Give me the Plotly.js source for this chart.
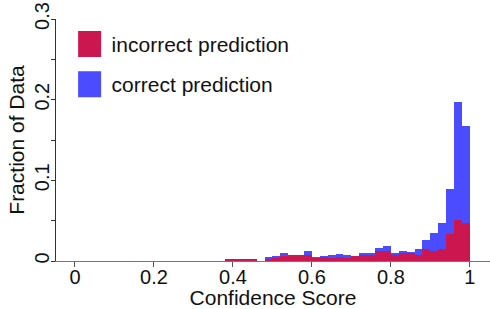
<!DOCTYPE html>
<html><head><meta charset="utf-8">
<script src="https://cdn.plot.ly/plotly-3.0.1.min.js"></script>
<style>html,body{margin:0;padding:0;background:#fff;} #chart{width:490px;height:309px;}</style>
</head><body><div id="chart"></div>
<script>
// Histogram bins (width 0.02), bin centers
const binCenters = [0.39,0.41,0.43,0.45,0.47,0.49,0.51,0.53,0.55,0.57,0.59,0.61,0.63,0.65,0.67,0.69,0.71,0.73,0.75,0.77,0.79,0.81,0.83,0.85,0.87,0.89,0.91,0.93,0.95,0.97,0.99];
// Fraction of data: correct predictions
const correctFrac = [0.002,0.001,0.001,0.002,0.000,0.0047,0.006,0.0094,0.006,0.007,0.012,0.0053,0.006,0.0069,0.009,0.0069,0.004,0.0094,0.0094,0.016,0.019,0.010,0.013,0.011,0.0153,0.026,0.035,0.047,0.089,0.197,0.167];
// Fraction of data: incorrect predictions
const incorrectFrac = [0.002,0.002,0.002,0.002,0.000,0.003,0.0035,0.006,0.0077,0.0074,0.007,0.004,0.0045,0.004,0.0053,0.004,0.006,0.007,0.008,0.013,0.012,0.008,0.010,0.010,0.0073,0.0144,0.013,0.0144,0.034,0.051,0.047];
const binWidth = 0.02;
const seriesNames = ['incorrect prediction','correct prediction'];
const xTickVals = [0,0.2,0.4,0.6,0.8,1];
const xTickText = ['0','0.2','0.4','0.6','0.8','1'];

const fam = '"Liberation Sans", Arial, sans-serif';
const font = {family:fam, size:20, color:'#111'};

const traces = [
  {type:'bar', x:binCenters, y:correctFrac, width:binWidth, name:seriesNames[1],
   marker:{color:'#4b4bff', line:{width:0}}, legendrank:2, legendgroup:'b'},
  {type:'bar', x:binCenters, y:incorrectFrac, width:binWidth, name:seriesNames[0],
   marker:{color:'#cc1650', line:{width:0}}, legendrank:1, legendgroup:'a'}
];

const layout = {
  width:490, height:309,
  margin:{l:56, r:0, t:19, b:48, pad:0},
  paper_bgcolor:'#fff', plot_bgcolor:'#fff',
  font:font,
  barmode:'overlay', bargap:0,
  showlegend:true,
  legend:{x:0.036, y:0.98, xanchor:'left', yanchor:'top', bgcolor:'rgba(0,0,0,0)',
          font:{family:fam, size:21, color:'#111'}, traceorder:'grouped', tracegroupgap:10, itemwidth:30},
  xaxis:{range:[-0.048,1.051], tickvals:xTickVals, ticktext:xTickText,
         ticks:'outside', ticklen:5, tickcolor:'#555', showline:true, linecolor:'#777', linewidth:1,
         showgrid:false, zeroline:false, tickfont:{size:20}, ticklabelstandoff:-7,
         title:{text:'Confidence Score', font:{size:21}, standoff:2}},
  yaxis:{range:[0,0.3], dtick:0.1, ticks:'outside', ticklen:4, tickcolor:'#333', showline:true, linecolor:'#333', linewidth:1,
         minor:{dtick:0.05, ticks:'outside', ticklen:4, tickcolor:'#333', showgrid:false},
         showgrid:false, zeroline:false, tickangle:-90, tickfont:{size:20}, ticklabelstandoff:-6,
         title:{text:'Fraction of Data', font:{size:21}, standoff:0}}
};

Plotly.newPlot('chart', traces, layout, {staticPlot:true}).then(function(){
  document.querySelectorAll('.legend .legendpoints path').forEach(function(p){
    p.removeAttribute('transform');
    p.setAttribute('d','M6.5,-13H29.5V13H6.5Z');
  });
});
</script>
</body></html>
